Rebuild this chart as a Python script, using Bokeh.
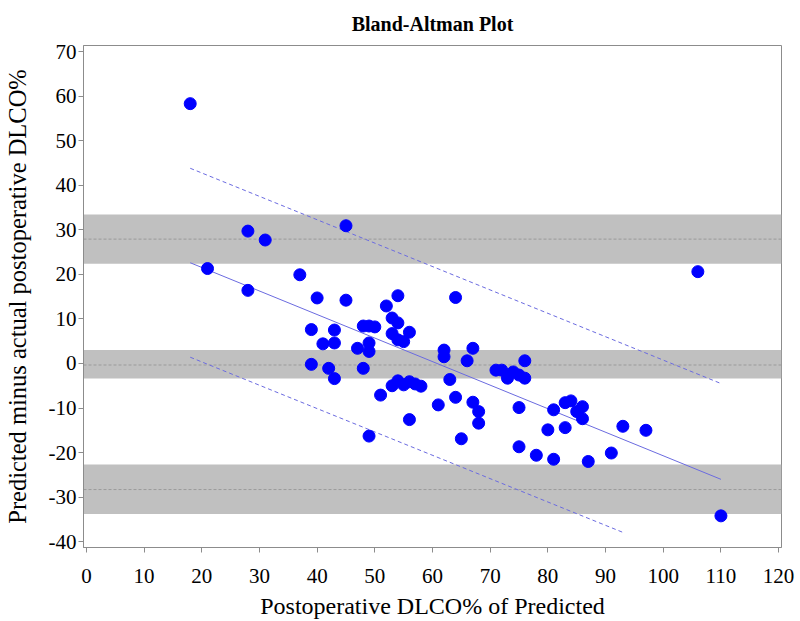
from bokeh.plotting import figure
from bokeh.models import Range1d, BoxAnnotation, Span, FixedTicker, ColumnDataSource
from bokeh.embed import file_html
from bokeh.resources import INLINE

# Postoperative DLCO% of predicted (x) and predicted minus actual (y)
dlco_actual = [18, 28, 31, 45, 21, 28, 37, 40, 45, 54, 64, 106, 52, 53, 54, 48, 49, 50,
               39, 43, 53, 56, 54, 55, 41, 43, 49, 47, 49, 62, 62, 67, 66, 76, 39, 42,
               48, 43, 63, 71, 72, 73, 74, 75, 76, 53, 54, 55, 56, 57, 58, 51, 64, 61,
               67, 68, 68, 75, 81, 83, 84, 85, 86, 86, 56, 49, 65, 80, 83, 93, 97, 75,
               78, 81, 87, 91, 110]
difference = [58.3, 29.7, 27.7, 30.9, 21.3, 16.4, 19.9, 14.7, 14.2, 15.2, 14.8, 20.6,
              12.9, 10.2, 9.1, 8.4, 8.4, 8.2, 7.6, 7.5, 6.7, 7.0, 5.3, 4.9, 4.4, 4.6,
              4.6, 3.4, 2.7, 3.0, 1.5, 3.4, 0.6, 0.6, -0.2, -1.1, -1.1, -3.4, -3.6,
              -1.5, -1.5, -3.3, -1.9, -2.6, -3.3, -5.0, -3.9, -4.8, -4.1, -4.6, -5.1,
              -7.1, -7.6, -9.3, -8.7, -10.8, -13.4, -9.9, -10.4, -8.8, -8.4, -10.8,
              -9.7, -12.4, -12.6, -16.3, -16.9, -14.9, -14.4, -14.1, -15.0, -18.7,
              -20.6, -21.5, -22.0, -20.1, -34.2]

# Regression line and its limits
reg_x = [18, 110]
reg_y = [22.6, -26.0]
upper_x = [18, 110]
upper_y = [43.8, -4.5]
lower_x = [18, 93]
lower_y = [1.4, -37.9]

# Horizontal bands: (bottom, centre, top)
band_bottom = [22.4, -3.4, -33.8]
band_centre = [27.9, -0.35, -28.3]
band_top = [33.4, 3.0, -22.7]

x_ticks = list(range(0, 121, 10))
y_ticks = list(range(-40, 71, 10))
y_tick_labels = ["-40", "-30", "-20", "-10", "0", "10", "20", "30", "40", "50", "60", "70"]

FONT = "Liberation Serif"
W, H = 800, 621
ML, MR, MT, MB = 82, 19, 45, 73

p = figure(width=W, height=H, output_backend="svg", toolbar_location=None,
           x_range=Range1d(-0.5, 120.5), y_range=Range1d(-41.3, 71.35),
           min_border_left=ML, min_border_right=MR, min_border_top=MT,
           min_border_bottom=MB, title="Bland-Altman Plot")

p.title.align = "center"
p.title.vertical_align = "top"
p.title.text_font = FONT
p.title.text_font_style = "bold"
p.title.text_font_size = "20px"
p.title.text_color = "black"
p.title.standoff = 18

p.grid.visible = False
p.outline_line_color = "#8c8c8c"
p.outline_line_width = 1
p.background_fill_color = "white"
p.border_fill_color = "white"

for lo, c, hi in zip(band_bottom, band_centre, band_top):
    p.add_layout(BoxAnnotation(bottom=lo, top=hi, fill_color="#c0c0c0", fill_alpha=1.0,
                               line_color=None, level="underlay"))
    p.add_layout(Span(location=c, dimension="width", line_color="#9a9a9a",
                      line_dash="3 2", line_width=1, level="underlay"))

p.line(reg_x, reg_y, line_color="#6b6be0", line_width=1)
p.line(upper_x, upper_y, line_color="#6b6be0", line_width=1, line_dash="4 3")
p.line(lower_x, lower_y, line_color="#6b6be0", line_width=1, line_dash="4 3")

src = ColumnDataSource(dict(x=dlco_actual, y=difference))
p.scatter("x", "y", source=src, size=12, fill_color="#0000ff", line_color="#0000ff")

p.xaxis.ticker = FixedTicker(ticks=x_ticks)
p.yaxis.ticker = FixedTicker(ticks=y_ticks)
p.yaxis.major_label_overrides = {t: s for t, s in zip(y_ticks, y_tick_labels)}
for ax in (p.xaxis, p.yaxis):
    ax.axis_line_color = "#8c8c8c"
    ax.major_tick_line_color = "#8c8c8c"
    ax.major_tick_in = 0
    ax.major_tick_out = 5
    ax.minor_tick_line_color = None
    ax.major_label_text_font = FONT
    ax.major_label_text_font_size = "21px"
    ax.major_label_text_color = "black"
    ax.axis_label_text_font = FONT
    ax.axis_label_text_font_style = "normal"
    ax.axis_label_text_color = "black"
    ax.axis_label_text_line_height = 1.0

p.xaxis.axis_label = "Postoperative DLCO% of Predicted"
p.yaxis.axis_label = "Predicted minus actual postoperative DLCO%"
p.xaxis.axis_label_text_font_size = "24px"
p.yaxis.axis_label_text_font_size = "24.5px"
p.xaxis.major_label_text_line_height = 1.0
p.xaxis.major_label_standoff = 16
p.xaxis.axis_label_standoff = 7
p.yaxis.major_label_standoff = 2
p.yaxis.axis_label_standoff = 15

open("out.html", "w").write(file_html(p, INLINE))
